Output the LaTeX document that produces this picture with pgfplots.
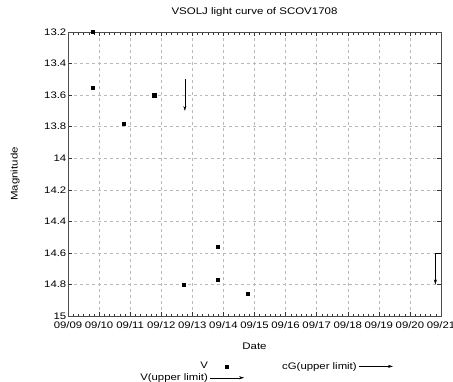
\documentclass[border=0pt]{standalone}
\usepackage{pgfplots}
\pgfplotsset{compat=1.18}
\usetikzlibrary{arrows.meta}
\usepackage{fontspec}
\setmainfont[FakeStretch=1.2]{Liberation Sans}
\begin{document}
\begin{tikzpicture}[x=1bp,y=1bp]
\begin{axis}[
  scale only axis,
  width=373bp, height=284bp,
  xmin=0, xmax=12, ymin=13.2, ymax=15,
  y dir=reverse,
  xtick={0,1,...,12},
  xticklabels={09/09,09/10,09/11,09/12,09/13,09/14,09/15,09/16,09/17,09/18,09/19,09/20,09/21},
  ytick={13.2,13.4,...,15.01},
  yticklabels={13.2,13.4,13.6,13.8,14,14.2,14.4,14.6,14.8,15},
  minor x tick num=5,
  tick align=inside,
  tick style={black!80, thin},
  major tick length=4bp, minor tick length=2.5bp,
  grid=major,
  major grid style={gray!55, dashed, thin},
  axis line style={black!70, line width=1pt},
  ticklabel style={font=\fontsize{9.5}{11}\selectfont},
  /pgf/number format/assume math mode=true,
  xticklabel style={inner xsep=0pt, yshift=-2.5bp},
  yticklabel style={inner xsep=1.5bp},
  title={VSOLJ light curve of SCOV1708},
  every axis title/.style={font=\fontsize{9.6}{11}\selectfont, at={(axis description cs:0.5,1.070)}, anchor=center},
  xlabel={Date},
  ylabel={Magnitude},
  label style={font=\fontsize{9.6}{11}\selectfont},
  xlabel style={at={(axis description cs:0.5,-0.106)}, anchor=center},
  ylabel style={at={(axis description cs:-0.142,0.5)}, anchor=center},
  legend style={draw=none, fill=none, at={(axis description cs:0.18,-0.148)}, anchor=north west,
    font=\fontsize{9.5}{11}\selectfont, legend columns=2, row sep=-1bp,
    /tikz/every even column/.append style={column sep=36bp}},
  legend cell align=right,
  legend plot pos=right,
]
\addplot[only marks, mark=square*, mark size=1.6bp, black,
  legend image code/.code={\draw[mark repeat=2,mark phase=2] plot coordinates {(0bp,0bp) (17bp,0bp) (34bp,0bp)};}] coordinates {
  (0.80,13.2) (0.80,13.555) (1.80,13.78) (2.77,13.60) (3.73,14.80)
  (4.82,14.56) (4.82,14.77) (5.79,14.86)
};
\addlegendentry{V}
\addplot[black, thin, -{Stealth[length=5bp,width=3bp]},
  legend image code/.code={\draw[black,thin,-{Stealth[length=5bp,width=3bp]}] (0bp,0bp) -- (34bp,0bp);}]
  coordinates {(11.82,14.6) (11.82,14.8)};
\addlegendentry{cG(upper limit)}
\addplot[black, thin, forget plot] coordinates {(11.82,14.6) (12,14.6)};
\addplot[black, thin, -{Stealth[length=5bp,width=3bp]},
  legend image code/.code={\draw[black,thin,-{Stealth[length=5bp,width=3bp]}] (0bp,0bp) -- (34bp,0bp);}]
  coordinates {(3.76,13.5) (3.76,13.7)};
\addlegendentry{V(upper limit)}
\coordinate (sw) at (axis description cs:0,0);
\coordinate (ne) at (axis description cs:1,1);
\end{axis}
\pgfresetboundingbox
\path[use as bounding box] ([shift={(-68bp,-66bp)}]sw) rectangle ([shift={(12bp,32bp)}]ne);
\end{tikzpicture}
\end{document}
